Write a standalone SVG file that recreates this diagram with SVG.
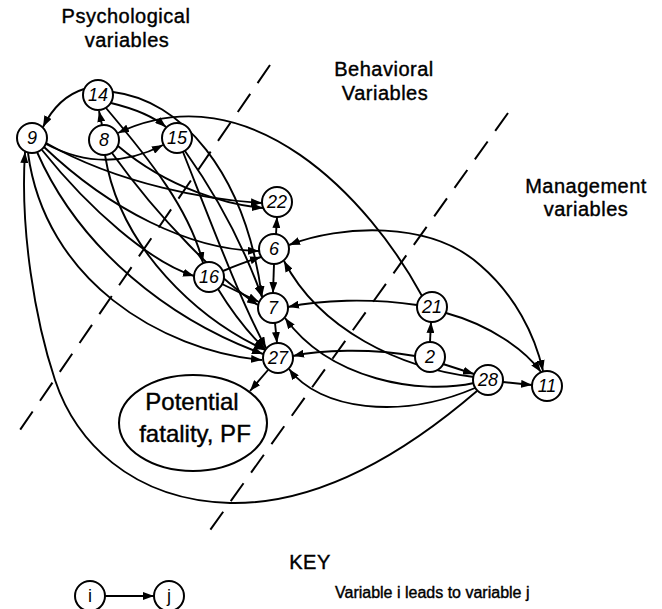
<svg xmlns="http://www.w3.org/2000/svg" width="662" height="609" viewBox="0 0 662 609">
<style>
.bg{fill:#fff}
.n circle,.n ellipse{fill:#fff;stroke:#000;stroke-width:2}
.n text{font-family:"Liberation Sans",Arial,sans-serif;font-style:italic;font-size:18px;text-anchor:middle;fill:#000}
.e path{fill:none;stroke:#000;stroke-width:1.9;marker-end:url(#ah)}
.bd{fill:none;stroke:#000;stroke-width:2;stroke-dasharray:22 13}
.t{font-family:"Liberation Sans",Arial,sans-serif;font-size:20px;letter-spacing:0.5px;text-anchor:middle;fill:#000;stroke:#000;stroke-width:0.4}
.pf{font-family:"Liberation Sans",Arial,sans-serif;font-size:24px;text-anchor:middle;fill:#000;stroke:#000;stroke-width:0.4}
.k{font-family:"Liberation Sans",Arial,sans-serif;font-size:16px;fill:#000;stroke:#000;stroke-width:0.4}
</style>
<defs>
<marker id="ah" markerUnits="userSpaceOnUse" markerWidth="11" markerHeight="8" refX="11" refY="4" orient="auto-start-reverse">
<path d="M0,0 L11,4 L0,8 z" fill="#000"/>
</marker>
</defs>
<rect class="bg" width="662" height="609"/>

<g id="labels">
<text class="t" x="126" y="23">Psychological</text>
<text class="t" x="127" y="47">variables</text>
<text class="t" x="384" y="76">Behavioral</text>
<text class="t" x="385" y="100">Variables</text>
<text class="t" x="586" y="193">Management</text>
<text class="t" x="586" y="216">variables</text>
</g>

<g id="boundaries">
<path class="bd" d="M270,65 L20,430"/>
<path class="bd" d="M508,113 L208,533"/>
</g>

<g id="connectors" class="e">
<path d="M84,89 Q58,97 43,127"/>
<path d="M102,125 L99,111"/>
<path d="M111,103 Q148,112 166,127"/>
<path d="M46,144 Q105,175 163,145"/>
<path d="M422,296 C370,200 250,70 118,133"/>
<path d="M113,92 C180,100 245,170 262,297"/>
<path d="M106,108 C150,160 190,210 203,263"/>
<path d="M185,151 C220,200 245,250 262,297"/>
<path d="M183,152 C210,220 240,300 266,348"/>
<path d="M44,147 C110,210 190,250 259,251"/>
<path d="M223,271 Q245,262 261,257"/>
<path d="M222,284 L259,302"/>
<path d="M42,150 C90,210 150,262 194,276"/>
<path d="M28,153 C45,280 160,350 262,360"/>
<path d="M37,152 C80,250 170,320 263,354"/>
<path d="M105,155 C120,250 200,320 265,350"/>
<path d="M112,153 C160,220 220,280 258,305"/>
<path d="M218,289 Q240,325 265,349"/>
<path d="M46,143 C120,185 210,200 262,203"/>
<path d="M118,146 C170,190 230,205 263,208"/>
<path d="M276,234 L277,217"/>
<path d="M274,264 L273,293"/>
<path d="M275,323 L277,343"/>
<path d="M268,370 L250,391"/>
<path d="M417,305 C370,298 320,300 288,307"/>
<path d="M415,356 C370,348 320,350 293,356"/>
<path d="M430,342 L431,322"/>
<path d="M443,364 L474,374"/>
<path d="M503,382 L532,385"/>
<path d="M446,313 C490,325 525,350 541,372"/>
<path d="M289,245 C340,225 430,220 480,265 C515,295 535,335 543,371" style="marker-start:url(#ah)"/>
<path d="M474,377 C400,368 320,330 284,261"/>
<path d="M474,383 C420,395 330,380 285,318"/>
<path d="M475,388 C400,420 320,410 289,369"/>
<path d="M477,391 C420,440 330,505 230,503 C130,500 75,440 55,380 C35,320 20,230 25,152"/>
</g>

<g id="n14" class="n"><circle cx="98" cy="95" r="15"/><text x="98" y="101">14</text></g>
<g id="n9" class="n"><circle cx="32" cy="138" r="15"/><text x="32" y="144">9</text></g>
<g id="n8" class="n"><circle cx="104" cy="140" r="15"/><text x="104" y="146">8</text></g>
<g id="n15" class="n"><circle cx="177" cy="138" r="15"/><text x="177" y="144">15</text></g>
<g id="n22" class="n"><circle cx="277" cy="202" r="15"/><text x="277" y="208">22</text></g>
<g id="n6" class="n"><circle cx="274" cy="249" r="15"/><text x="274" y="255">6</text></g>
<g id="n16" class="n"><circle cx="209" cy="277" r="15"/><text x="209" y="283">16</text></g>
<g id="n7" class="n"><circle cx="273" cy="308" r="15"/><text x="273" y="314">7</text></g>
<g id="n27" class="n"><circle cx="278" cy="358" r="15"/><text x="278" y="364">27</text></g>
<g id="n21" class="n"><circle cx="432" cy="307" r="15"/><text x="432" y="313">21</text></g>
<g id="n2" class="n"><circle cx="430" cy="357" r="15"/><text x="430" y="363">2</text></g>
<g id="n28" class="n"><circle cx="488" cy="380" r="15"/><text x="488" y="386">28</text></g>
<g id="n11" class="n"><circle cx="547" cy="386" r="15"/><text x="547" y="392">11</text></g>
<g id="nPF" class="n"><ellipse cx="193" cy="423" rx="74" ry="48"/><text class="pf" x="192" y="410" style="font-style:normal;font-size:24px">Potential</text><text class="pf" x="195" y="442" style="font-style:normal;font-size:24px">fatality, PF</text></g>

<g id="key">
<text class="t" x="310" y="569">KEY</text>
<g id="key-i" class="n"><circle cx="90" cy="596" r="15"/><text x="90" y="602" style="font-style:normal">i</text></g>
<g id="key-j" class="n"><circle cx="169" cy="596" r="15"/><text x="169" y="602" style="font-style:normal">j</text></g>
<g class="e"><path d="M105,596 L154,596"/></g>
<text class="k" x="335" y="598">Variable i leads to variable j</text>
</g>
</svg>
